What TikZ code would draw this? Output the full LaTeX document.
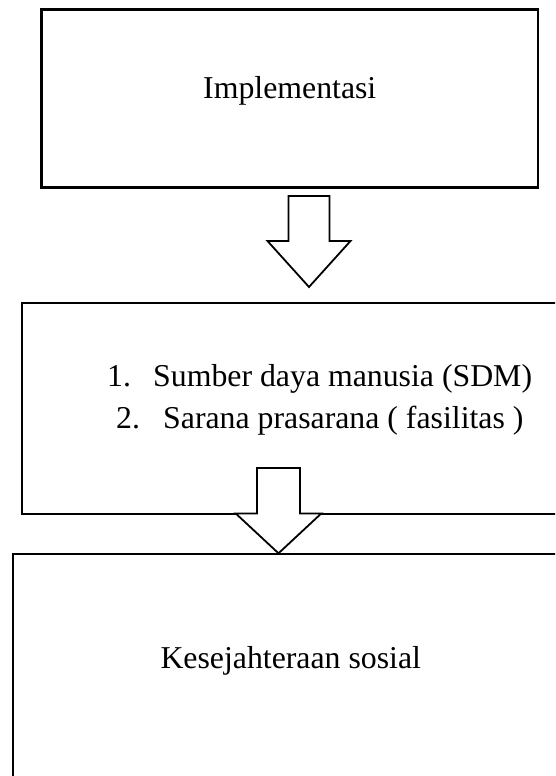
\documentclass[tikz,border=0pt]{standalone}
\usepackage{fontspec}
\setmainfont{Liberation Serif}
\begin{document}
\begin{tikzpicture}[x=1pt,y=-1pt,
  box/.style={draw, line width=2.2pt, rectangle, inner sep=0pt},
  txt/.style={inner sep=0pt, font=\fontsize{31.8pt}{38pt}\selectfont},
  blockarrow/.style={draw, fill=white, line width=1.8pt, line join=miter}]
\clip (0,0) rectangle (555,776);
\fill[white] (0,0) rectangle (555,776);
% boxes
\node[box, minimum width=496.5pt, minimum height=178pt] (b1) at (289.75,98.5) {};
\node[box, minimum width=553pt, minimum height=211.3pt] (b2) at (298.5,408.35) {};
\node[box, minimum width=562.3pt, minimum height=246pt] (b3) at (293.85,677) {};
% texts
\node[txt, anchor=base] (t1) at (289.75,98) {Implementasi};
\node[txt, anchor=base west] (n1) at (107,386.7) {1.};
\node[txt, anchor=base west] (s1) at (153,386.7) {Sumber daya manusia (SDM)};
\node[txt, anchor=base west] (n2) at (116,428.3) {2.};
\node[txt, anchor=base west] (s2) at (163,428.3) {Sarana prasarana ( fasilitas )};
\node[txt, anchor=base] (t3) at (290.75,668) {Kesejahteraan sosial};
% block arrows
\coordinate (a1) at (309,241);
\coordinate (a2) at (278.5,513.5);
\draw[blockarrow, shift={(a1)}] (-20.5,-45) -- (20.5,-45) -- (20.5,0) -- (41.5,0) -- (0,46) -- (-41.5,0) -- (-20.5,0) -- cycle;
\draw[blockarrow, shift={(a2)}] (-21.5,-45.5) -- (21.5,-45.5) -- (21.5,0) -- (42.75,0) -- (0,39.8) -- (-42.75,0) -- (-21.5,0) -- cycle;
\end{tikzpicture}
\end{document}
